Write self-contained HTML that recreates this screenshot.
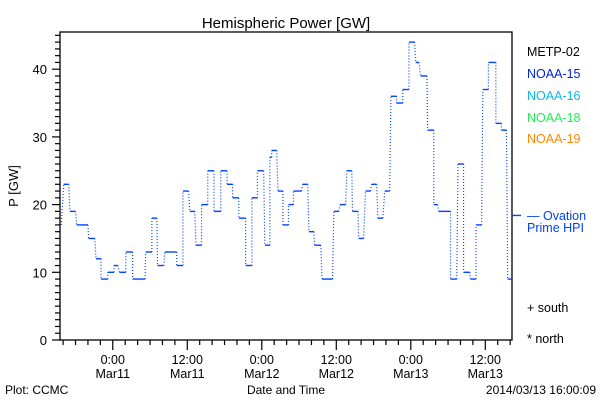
<!DOCTYPE html>
<html><head><meta charset="utf-8"><style>
body{margin:0;background:#fff;}
svg{display:block;font-family:"Liberation Sans","DejaVu Sans",sans-serif;}
</style></head><body>
<svg id="chart" width="600" height="400" viewBox="0 0 600 400">
<rect width="600" height="400" fill="#fff"/>
<text x="286" y="28" font-size="15" text-anchor="middle">Hemispheric Power [GW]</text>
<rect x="60" y="32" width="452" height="308" fill="none" stroke="#000" stroke-width="1.3"/>
<g id="yticks"></g>
<g id="xticks"></g>
<g id="series"></g>
<text x="18" y="186" font-size="13" text-anchor="middle" transform="rotate(-90 18 186)">P [GW]</text>
<text x="286" y="394" font-size="12" text-anchor="middle">Date and Time</text>
<text x="5" y="394" font-size="12">Plot: CCMC</text>
<text x="596" y="394" font-size="12" text-anchor="end">2014/03/13 16:00:09</text>
<g font-size="12.5">
<text x="527" y="56" fill="#000">METP-02</text>
<text x="527" y="78" fill="#0022dd">NOAA-15</text>
<text x="527" y="100" fill="#00bbee">NOAA-16</text>
<text x="527" y="122" fill="#22ee55">NOAA-18</text>
<text x="527" y="143" fill="#ff8800">NOAA-19</text>
<text x="527" y="220" fill="#0044ee">— Ovation</text>
<text x="527" y="232" fill="#0044ee">Prime HPI</text>
<text x="527" y="312" fill="#000">+ south</text>
<text x="527" y="343" fill="#000">* north</text>
</g>
</svg>
<script>
const segStart=[-8.3,-7.9,-6.9,-5.8,-3.9,-2.7,-1.9,-0.8,0.2,1.1,2.1,3.2,5.3,6.3,7.2,8.4,10.3,11.3,12.4,13.4,14.3,15.3,16.3,17.4,18.4,19.3,20.3,21.4,22.4,23.3,24.5,25.3,25.6,26.6,27.4,28.3,29.1,30.6,31.6,32.5,33.7,35.6,36.6,37.7,38.6,39.6,40.7,41.7,42.7,43.8,44.8,45.7,46.7,47.7,48.8,49.6,50.7,51.7,52.5,54.4,55.6,56.5,57.6,58.5,59.6,60.5,61.7,62.6,63.6];
const segEnd=[-8.3,-7.1,-6.0,-4.0,-2.9,-1.9,-0.8,0.2,0.8,2.1,3.2,5.2,6.3,7.1,8.2,10.3,11.3,12.2,13.2,14.3,15.3,16.3,17.4,18.4,19.3,20.3,21.4,22.4,23.3,24.3,25.3,25.6,26.4,27.4,28.3,29.1,30.4,31.4,32.4,33.5,35.4,36.4,37.5,38.5,39.5,40.4,41.5,42.5,43.5,44.6,45.7,46.7,47.7,48.6,49.3,50.6,51.7,52.3,54.4,55.4,56.5,57.5,58.5,59.4,60.5,61.7,62.6,63.4,64.3];
const power=[17,23,19,17,15,12,9,10,11,10,13,9,13,18,11,13,11,22,19,14,20,25,19,25,23,21,18,11,21,25,14,27,28,22,17,20,22,23,16,14,9,19,20,25,19,15,22,23,18,22,36,35,37,44,41,39,31,20,19,9,26,10,9,17,37,41,32,31,9];
const hpi=[18.4];
const yTicks=[0,10,20,30,40];
const xTickHours=[0,12,24,36,48,60];
const xTickTimes=["0:00","12:00","0:00","12:00","0:00","12:00"];
const xTickDates=["Mar11","Mar11","Mar12","Mar12","Mar13","Mar13"];
const NS="http://www.w3.org/2000/svg";
const X0=60,X1=512,Y0=340,H0=-8.5,H1=64.3;
function xs(h){return X0+(h-H0)*(X1-X0)/(H1-H0);}
function ys(v){return Y0-v*6.77;}
function mk(tag,attrs,parent){const e=document.createElementNS(NS,tag);for(const k in attrs)e.setAttribute(k,attrs[k]);parent.appendChild(e);return e;}
const yg=document.getElementById('yticks');
for(let v=0;v<=45;v++){const y=ys(v);const l=mk('line',{x1:v%10===0?52:55,x2:60,y1:y,y2:y,stroke:'#000','stroke-width':1.2},yg);

}
yTicks.forEach(v=>{const t=mk('text',{x:47,y:ys(v)+5,'font-size':13,'text-anchor':'end'},yg);t.textContent=v;

});
const xg=document.getElementById('xticks');
for(let h=-8;h<=64;h+=2){const x=xs(h);const major=h%12===0;const l=mk('line',{x1:x,x2:x,y1:340,y2:major?350:345,stroke:'#000','stroke-width':1.2},xg);

}
xTickHours.forEach((h,i)=>{const t=mk('text',{x:xs(h),y:364,'font-size':12.5,'text-anchor':'middle'},xg);t.textContent=xTickTimes[i];


const d=mk('text',{x:xs(h),y:378,'font-size':12.5,'text-anchor':'middle'},xg);d.textContent=xTickDates[i];

});
const sg=document.getElementById('series');
for(let i=0;i<power.length;i++){
 const l=mk('line',{x1:xs(segStart[i]),x2:xs(segEnd[i]),y1:ys(power[i]),y2:ys(power[i]),stroke:'#0044ff','stroke-width':1.4},sg);
 
 
 if(i<power.length-1){const d=mk('line',{x1:xs(segEnd[i]),x2:xs(segStart[i+1]),y1:ys(power[i]),y2:ys(power[i+1]),stroke:'#0044ff','stroke-width':1.2,'stroke-dasharray':'1 2'},sg);
 
 }
}
const m=mk('line',{x1:512,x2:521,y1:ys(hpi[0]),y2:ys(hpi[0]),stroke:'#0044ff','stroke-width':1.4},sg);


</script>
</body></html>
